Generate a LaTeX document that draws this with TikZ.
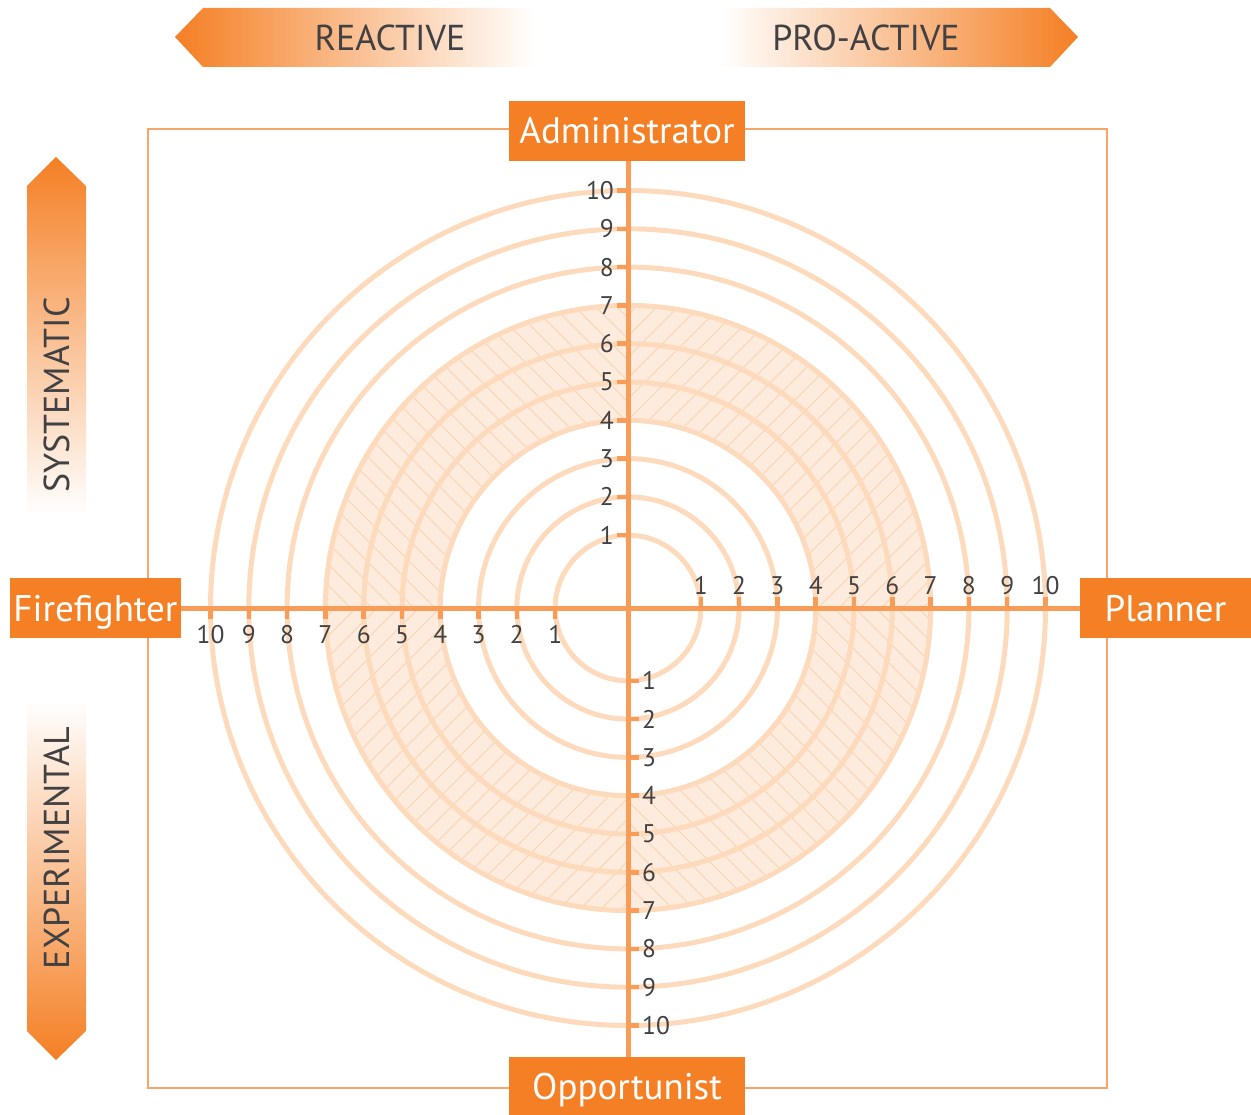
\documentclass[tikz,border=0pt]{standalone}
\usepackage{fontspec}
\setmainfont{PT Sans}
\usetikzlibrary{positioning}

\definecolor{boxorange}{HTML}{F47F24}
\definecolor{axisorange}{HTML}{F89C58}
\definecolor{ringcol}{HTML}{FDDABB}
\definecolor{bandcol}{HTML}{FDEBDD}
\definecolor{hatchcol}{HTML}{F9D2AE}
\definecolor{framecol}{HTML}{F6A469}
\definecolor{inkgray}{HTML}{414042}

\tikzset{
  rolebox/.style={fill=boxorange, text=white, inner sep=0pt, text height=26pt, text depth=0pt,
    font=\fontsize{37}{40}\selectfont},
  sidetext/.style={text=inkgray, inner sep=0pt, text height=25pt, text depth=0pt,
    font=\fontsize{36}{40}\selectfont},
  num/.style={text=inkgray, inner sep=0pt, font=\fontsize{25.5}{28}\selectfont},
  ring/.style={draw=ringcol, line width=5pt},
  axis/.style={draw=axisorange, line width=5pt},
  tick/.style={draw=axisorange, line width=4.5pt},
  hatch/.style={draw=hatchcol, line width=1pt}
}

\begin{document}
\begin{tikzpicture}[x=1pt,y=-1pt]
\useasboundingbox (0,0) rectangle (1251,1115);
\coordinate (c) at (628,608);

% frame
\draw[framecol, line width=1.5pt] (148,129) rectangle (1107,1088);

% shaded band between 4 and 7
\fill[bandcol] (c) circle (302.6);
\begin{scope}
  \clip (c) circle (302.6);
  \begin{scope}
    \clip (300,300) rectangle (628,608);
    \foreach \s in {-320,-299,...,340}
      \draw[hatch] (\s+280,280) -- (\s+640,640);
  \end{scope}
  \begin{scope}
    \clip (628,300) rectangle (960,608);
    \foreach \s in {880,901,...,1600}
      \draw[hatch] (\s-280,280) -- (\s-640,640);
  \end{scope}
  \begin{scope}
    \clip (300,608) rectangle (628,920);
    \foreach \s in {880,901,...,1600}
      \draw[hatch] (\s-580,580) -- (\s-940,940);
  \end{scope}
  \begin{scope}
    \clip (628,608) rectangle (960,920);
    \foreach \s in {-320,-299,...,340}
      \draw[hatch] (\s+580,580) -- (\s+940,940);
  \end{scope}
\end{scope}
\fill[white] (c) circle (187.7);

% rings
\foreach \k in {1,...,10}{
  \pgfmathsetmacro\r{34.5+38.3*\k}
  \draw[ring] (c) circle (\r);
}

% role boxes
\node[rolebox, minimum width=236pt, minimum height=60pt] (admin) at (627,131) {Administrator};
\node[rolebox, minimum width=236pt, minimum height=58pt] (opport) at (627,1086) {Opportunist};
\node[rolebox, minimum width=171pt, minimum height=60pt] (fire) at (95.5,608) {Firefighter};
\node[rolebox, minimum width=171pt, minimum height=60pt] (plan) at (1165.5,608) {Planner};

% axes
\draw[axis] (admin.south -| c) -- (opport.north -| c);
\draw[axis] (fire.east) -- (plan.west);

% ticks and numbers
\foreach \k in {1,...,10}{
  \pgfmathsetmacro\r{34.5+38.3*\k}
  \draw[tick] (617,608-\r) -- (628,608-\r);
  \node[num, anchor=east] (up\k) at (614,608-\r) {\k};
  \draw[tick] (628,608+\r) -- (639,608+\r);
  \node[num, anchor=west] (down\k) at (642,608+\r) {\k};
  \draw[tick] (628-\r,608) -- (628-\r,619);
  \node[num, anchor=north] (left\k) at (628-\r,625) {\k};
  \draw[tick] (628+\r,597) -- (628+\r,608);
  \node[num, anchor=south] (right\k) at (628+\r,595) {\k};
}

% direction arrows
\shade[left color=boxorange, right color=white] (175,37) -- (203,8) -- (535,8) -- (535,67) -- (203,67) -- cycle;
\node[sidetext] (reactive) at (390,38) {REACTIVE};
\shade[left color=white, right color=boxorange] (720,8) -- (1050,8) -- (1078,37) -- (1050,67) -- (720,67) -- cycle;
\node[sidetext] (proactive) at (866,38) {PRO-ACTIVE};
\shade[top color=boxorange, bottom color=white] (56,157) -- (86,186) -- (86,515) -- (27,515) -- (27,186) -- cycle;
\node[sidetext, rotate=90] (systematic) at (57,395) {SYSTEMATIC};
\shade[top color=white, bottom color=boxorange] (27,700) -- (86,700) -- (86,1031) -- (56,1060) -- (27,1031) -- cycle;
\node[sidetext, rotate=90] (experimental) at (57,848) {EXPERIMENTAL};
\end{tikzpicture}
\end{document}
